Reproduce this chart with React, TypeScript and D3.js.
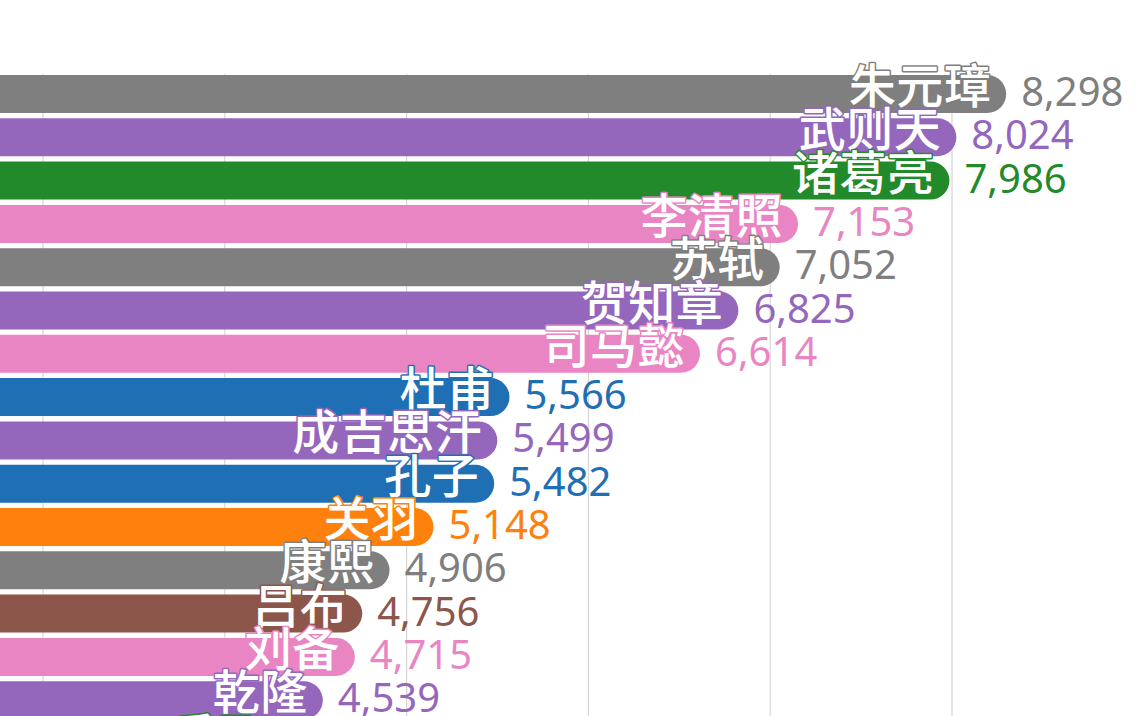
import React from "react";
import * as d3 from "d3";

const names = ["朱元璋", "武则天", "诸葛亮", "李清照", "苏轼", "贺知章", "司马懿", "杜甫", "成吉思汗", "孔子", "关羽", "康熙", "吕布", "刘备", "乾隆", "岳飞"];
const values = [8298, 8024, 7986, 7153, 7052, 6825, 6614, 5566, 5499, 5482, 5148, 4906, 4756, 4715, 4539, 4310];
const colors = ["#7f7f7f", "#9467bd", "#238a2b", "#e985c3", "#7f7f7f", "#9467bd", "#e985c3", "#1f6fb4", "#9467bd", "#1f6fb4", "#ff810d", "#7f7f7f", "#8c564b", "#e985c3", "#9467bd", "#238a2b"];
const gridTicks = [3000, 4000, 5000, 6000, 7000, 8000];

const W = 1146;
const H = 716;

export default function App() {
  const x = d3.scaleLinear().domain([3000, 8000]).range([43, 952]);
  const y = d3.scaleLinear().domain([0, 1]).range([75, 118.3]);
  const bh = 38;
  const fmt = d3.format(",");
  return (
    <svg width={W} height={H} style={{ position: "absolute", left: 0, top: 0, background: "#fff" }}>
      {gridTicks.map((t) => (
        <line key={t} x1={x(t)} x2={x(t)} y1={74} y2={H} stroke="#d6d6d6" strokeWidth={1.2} />
      ))}
      {names.map((n, i) => {
        const x0 = x(0);
        const x1 = x(values[i]);
        const top = y(i);
        return (
          <rect key={n} x={x0} y={top} width={x1 - x0} height={bh} rx={bh / 2} fill={colors[i]} />
        );
      })}
      {names.map((n, i) => {
        const x1 = x(values[i]);
        const top = y(i);
        return (
          <g key={n + "t"}>
            <text
              x={x1 - 15}
              y={top + 28}
              textAnchor="end"
              fontFamily="'Noto Sans CJK SC', 'Noto Sans', sans-serif"
              fontSize={47}
              fontWeight={500}
              letterSpacing={0.5}
              fill="#fff"
              stroke={colors[i]}
              strokeWidth={3}
              paintOrder="stroke"
              strokeLinejoin="round"
            >
              {n}
            </text>
            <text
              x={x1 + 15}
              y={top + 31}
              textAnchor="start"
              fontFamily="'Noto Sans', 'Open Sans', sans-serif"
              fontSize={40}
              fill={colors[i]}
            >
              {fmt(values[i])}
            </text>
          </g>
        );
      })}
    </svg>
  );
}
